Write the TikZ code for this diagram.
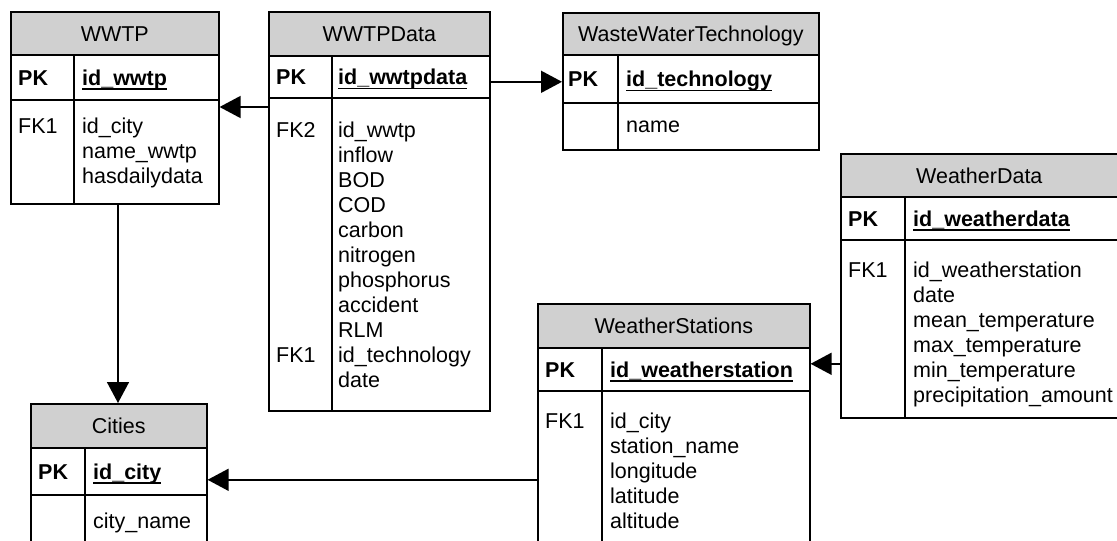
\documentclass[tikz,border=0pt]{standalone}
\usepackage{fontspec}
\setmainfont{Liberation Sans}
\usetikzlibrary{arrows.meta,positioning}
\newsavebox{\pkbox}
\newcommand{\pkul}[1]{\sbox{\pkbox}{#1}\rlap{\rule[-4.6pt]{\wd\pkbox}{1.6pt}}\usebox{\pkbox}}

\begin{document}
\begin{tikzpicture}[
    x=1pt, y=-1pt,
    every node/.style={font=\fontsize{21.5}{25}\selectfont},
    head/.style={
        draw, fill=colHead, line width=1.6pt, anchor=north west, inner sep=0pt,
        text height=15.4pt, text depth=0pt
    },
    cell/.style={draw, line width=1.6pt, anchor=north west, inner sep=0pt},
    key/.style={
        inner sep=0pt, text height=15.4pt, text depth=0pt,
        font=\fontsize{21.5}{25}\selectfont\bfseries
    },
    fields/.style={inner sep=0pt, align=left},
    fk/.style={line width=1.6pt, -{Triangle[length=21pt, width=22pt]}}
]

% ============================
% COLOR DEFINITIONS
% ============================
\definecolor{colHead}{HTML}{D0D0D0}   % header grey

\useasboundingbox (0,0) rectangle (1117,541);
\clip (0,0) rectangle (1117,541);
\fill[white] (0,0) rectangle (1117,541);

% ============================
% WWTP (x=10..218)
% ============================
\node[head, minimum width=208, minimum height=43] (wwtp) at (10,11) {WWTP};
\node[cell, minimum width=63, minimum height=45] (wwtp-pkk) at (10,54) {};
\node[cell, minimum width=145, minimum height=45] (wwtp-pkf) at (73,54) {};
\node[cell, minimum width=63, minimum height=104] (wwtp-bodyk) at (10,99) {};
\node[cell, minimum width=145, minimum height=104] (wwtp-body) at (73,99) {};
\node[key, right=8pt of wwtp-pkk.west] (wwtp-pk) {PK};
\node[key, right=9pt of wwtp-pkf.west] (wwtp-id) {\pkul{id\_wwtp}};
\node[fields, below right=18pt and 8pt of wwtp-bodyk.north west] (wwtp-fk1) {\rule{0pt}{16pt}FK1};
\node[fields, below right=18pt and 9pt of wwtp-body.north west] (wwtp-attr)
    {\rule{0pt}{16pt}id\_city\\name\_wwtp\\hasdailydata};

% ============================
% WWTPData (x=268..489)
% ============================
\node[head, minimum width=221, minimum height=44] (wwtpdata) at (268,11) {WWTPData};
\node[cell, minimum width=63, minimum height=42] (wwtpdata-pkk) at (268,55) {};
\node[cell, minimum width=158, minimum height=42] (wwtpdata-pkf) at (331,55) {};
\node[cell, minimum width=63, minimum height=313] (wwtpdata-bodyk) at (268,97) {};
\node[cell, minimum width=158, minimum height=313] (wwtpdata-body) at (331,97) {};
\node[key, right=8pt of wwtpdata-pkk.west] (wwtpdata-pk) {PK};
\node[key, right=7pt of wwtpdata-pkf.west] (wwtpdata-id) {\pkul{id\_wwtpdata}};
\node[fields, below right=24pt and 8pt of wwtpdata-bodyk.north west] (wwtpdata-fk2) {\rule{0pt}{16pt}FK2};
\node[fields, below right=249pt and 8pt of wwtpdata-bodyk.north west] (wwtpdata-fk1) {\rule{0pt}{16pt}FK1};
\node[fields, below right=24pt and 7pt of wwtpdata-body.north west] (wwtpdata-attr)
    {\rule{0pt}{16pt}id\_wwtp\\inflow\\BOD\\COD\\carbon\\nitrogen\\phosphorus\\accident\\RLM\\id\_technology\\date};

% ============================
% WasteWaterTechnology (x=562..818)
% ============================
\node[head, minimum width=256, minimum height=42] (wwt) at (562,12) {WasteWaterTechnology};
\node[cell, minimum width=55, minimum height=48] (wwt-pkk) at (562,54) {};
\node[cell, minimum width=201, minimum height=48] (wwt-pkf) at (617,54) {};
\node[cell, minimum width=55, minimum height=47] (wwt-bodyk) at (562,102) {};
\node[cell, minimum width=201, minimum height=47] (wwt-body) at (617,102) {};
\node[key, right=6pt of wwt-pkk.west] (wwt-pk) {PK};
\node[key, right=9pt of wwt-pkf.west] (wwt-id) {\pkul{id\_technology}};
\node[fields, below right=14pt and 9pt of wwt-body.north west] (wwt-attr) {\rule{0pt}{16pt}name};

% ============================
% WeatherData (x=840..)
% ============================
\node[head, minimum width=290, minimum height=43] (wd) at (840,153) {\hspace*{-13pt}WeatherData};
\node[cell, minimum width=64, minimum height=43] (wd-pkk) at (840,196) {};
\node[cell, minimum width=226, minimum height=43] (wd-pkf) at (904,196) {};
\node[cell, minimum width=64, minimum height=178] (wd-bodyk) at (840,239) {};
\node[cell, minimum width=226, minimum height=178] (wd-body) at (904,239) {};
\node[key, right=8pt of wd-pkk.west] (wd-pk) {PK};
\node[key, right=9pt of wd-pkf.west] (wd-id) {\pkul{id\_weatherdata}};
\node[fields, below right=22pt and 8pt of wd-bodyk.north west] (wd-fk1) {\rule{0pt}{16pt}FK1};
\node[fields, below right=22pt and 9pt of wd-body.north west] (wd-attr)
    {\rule{0pt}{16pt}id\_weatherstation\\date\\mean\_temperature\\max\_temperature\\min\_temperature\\precipitation\_amount};

% ============================
% WeatherStations (x=537..809)
% ============================
\node[head, minimum width=272, minimum height=44] (ws) at (537,303) {WeatherStations};
\node[cell, minimum width=64, minimum height=43] (ws-pkk) at (537,347) {};
\node[cell, minimum width=208, minimum height=43] (ws-pkf) at (601,347) {};
\node[cell, minimum width=64, minimum height=180] (ws-bodyk) at (537,390) {};
\node[cell, minimum width=208, minimum height=180] (ws-body) at (601,390) {};
\node[key, right=8pt of ws-pkk.west] (ws-pk) {PK};
\node[key, right=9pt of ws-pkf.west] (ws-id) {\pkul{id\_weatherstation}};
\node[fields, below right=22pt and 8pt of ws-bodyk.north west] (ws-fk1) {\rule{0pt}{16pt}FK1};
\node[fields, below right=22pt and 9pt of ws-body.north west] (ws-attr)
    {\rule{0pt}{16pt}id\_city\\station\_name\\longitude\\latitude\\altitude};

% ============================
% Cities (x=30..206)
% ============================
\node[head, minimum width=176, minimum height=44] (cities) at (30,403) {Cities};
\node[cell, minimum width=54, minimum height=47] (cities-pkk) at (30,447) {};
\node[cell, minimum width=122, minimum height=47] (cities-pkf) at (84,447) {};
\node[cell, minimum width=54, minimum height=76] (cities-bodyk) at (30,494) {};
\node[cell, minimum width=122, minimum height=76] (cities-body) at (84,494) {};
\node[key, right=8pt of cities-pkk.west] (cities-pk) {PK};
\node[key, right=9pt of cities-pkf.west] (cities-id) {\pkul{id\_city}};
\node[fields, below right=18pt and 9pt of cities-body.north west] (cities-attr) {\rule{0pt}{16pt}city\_name};

% ============================
% RELATIONS
% ============================
\coordinate (r1) at ([yshift=-10pt]wwtpdata-bodyk.north west);
\draw[fk] (r1) -- (r1 -| wwtp-body.east);
\coordinate (r2) at ([yshift=-5pt]wwtpdata-pkf.east);
\draw[fk] (r2) -- (r2 -| wwt-pkk.west);
\coordinate (r3) at ([yshift=5.5pt]ws-pkf.east);
\draw[fk] (r3 -| wd-bodyk.west) -- (r3);
\coordinate (r4) at ([yshift=-8.5pt]cities-pkf.east);
\draw[fk] (r4 -| ws-bodyk.west) -- (r4);
\coordinate (r5) at ([xshift=45pt]wwtp-body.south west);
\draw[fk] (r5) -- (r5 |- cities.north);

\end{tikzpicture}
\end{document}
